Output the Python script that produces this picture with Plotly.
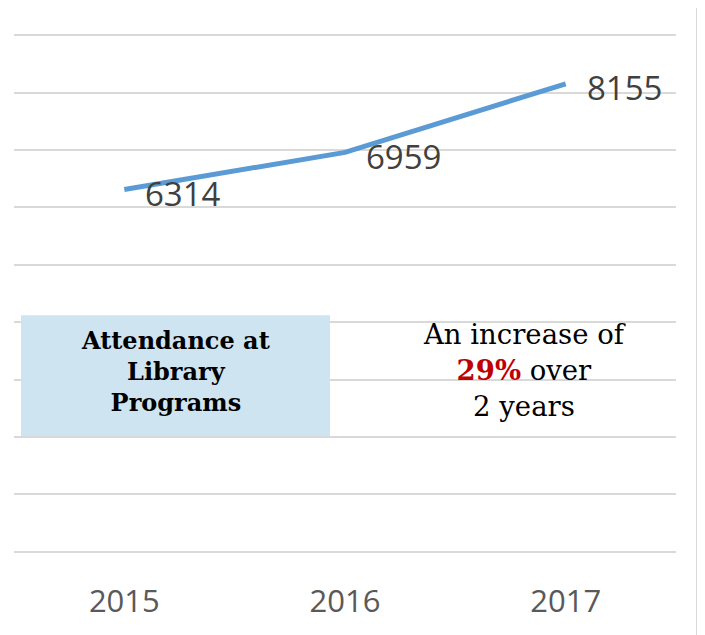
import plotly.graph_objects as go

years = ["2015", "2016", "2017"]
attendance = [6314, 6959, 8155]
y_ticks = [0, 1000, 2000, 3000, 4000, 5000, 6000, 7000, 8000, 9000]
box_title = "Attendance at<br>Library<br>Programs"
note_text = "An increase of<br><b><span style='color:#C00000'>29%</span></b> over<br>2 years"

# the page body adds an 8px offset; figure coordinates below are window - 8
OFF = 8
W, H = 705 - OFF, 635 - OFF
L, R, T, B = 14 - OFF, 676 - OFF, 35 - OFF, 552 - OFF
Y0, Y1 = -40, 9040  # small pad so edge gridlines are drawn


def px(x):
    return (x - OFF - L) / (R - L)


def py(y):
    return (B - (y - OFF)) / (B - T)


fig = go.Figure()
fig.add_trace(go.Scatter(
    x=years, y=attendance, mode="lines",
    line=dict(color="#5B9BD5", width=5),
    hoverinfo="skip", showlegend=False,
))

for i, v in enumerate(attendance):
    fig.add_annotation(
        x=i, y=v, xref="x", yref="y", text=str(v), showarrow=False,
        xanchor="left", yanchor="middle", xshift=19, yshift=-4,
        font=dict(family="Open Sans", size=33, color="#404040"),
    )

shapes = [
    dict(type="rect", xref="paper", yref="paper",
         x0=px(21), x1=px(330), y0=py(435), y1=py(315),
         fillcolor="#CFE4F1", line=dict(width=0), layer="above"),
    dict(type="line", xref="paper", yref="paper",
         x0=px(0), x1=px(698), y0=py(9), y1=py(9),
         line=dict(color="#D9D9D9", width=2)),
    dict(type="line", xref="paper", yref="paper",
         x0=px(697), x1=px(697), y0=py(8), y1=py(640),
         line=dict(color="#D9D9D9", width=2)),
]

fig.add_annotation(
    x=px(175), y=py(371), xref="paper", yref="paper", text=box_title,
    showarrow=False, xanchor="center", yanchor="middle", align="center",
    font=dict(family="DejaVu Serif", size=24, color="#000000", weight="bold"),
)
fig.add_annotation(
    x=px(524), y=py(369), xref="paper", yref="paper", text=note_text,
    showarrow=False, xanchor="center", yanchor="middle", align="center",
    font=dict(family="DejaVu Serif", size=27.5, color="#000000"),
)

# convert pixel plot area to padded range
span = 9000 / (B - T)
fig.update_layout(
    width=W, height=H,
    margin=dict(l=L, r=W - R, t=T - int(round(40 / span)), b=H - B - int(round(40 / span))),
    paper_bgcolor="white", plot_bgcolor="white",
    shapes=shapes,
    xaxis=dict(
        type="category", range=[-0.5, 2.5], showgrid=False, zeroline=False,
        showline=False, ticks="", ticklabelstandoff=26,
        tickfont=dict(family="Open Sans", size=31, color="#595959"),
    ),
    yaxis=dict(
        range=[Y0, Y1], tickvals=y_ticks, showticklabels=False,
        showgrid=True, gridcolor="#D9D9D9", gridwidth=1.5,
        zeroline=False, showline=False,
    ),
)

fig.write_html("out.html")
